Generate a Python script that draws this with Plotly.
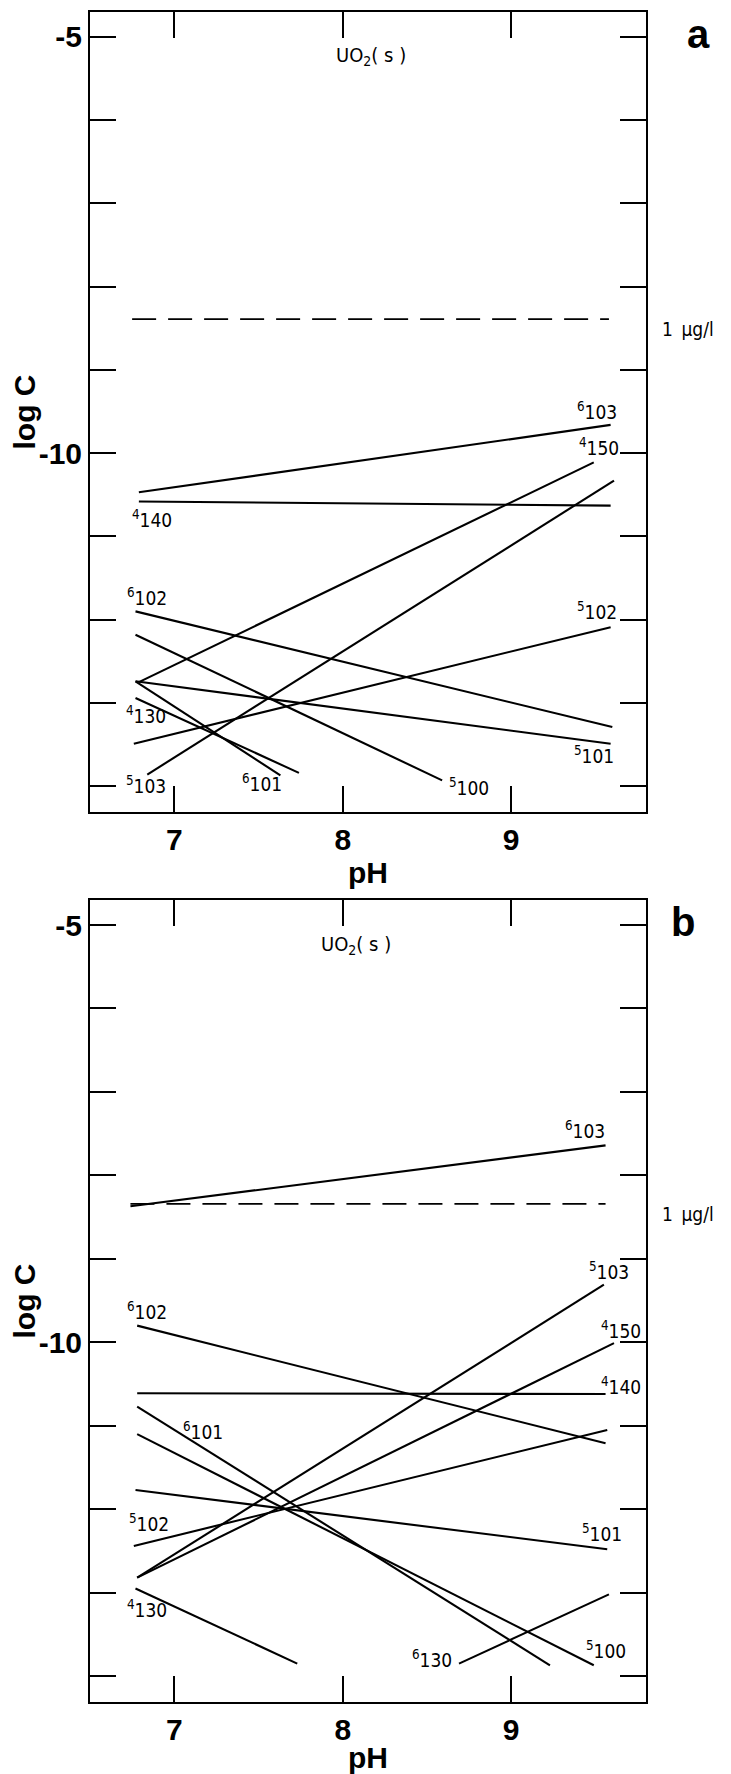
import plotly.graph_objects as go

# ---------------- data ----------------
# Panel a
a_species = ["6_103", "4_140", "4_150", "5_103", "6_102", "5_100", "5_101", "5_102", "6_101", "4_130"]
a_ph0 = [6.79, 6.79, 6.79, 6.84, 6.77, 6.77, 6.77, 6.76, 6.77, 6.77]
a_ph1 = [9.59, 9.59, 9.49, 9.61, 9.60, 8.59, 9.59, 9.59, 7.63, 7.74]
a_c0 = [-10.47, -10.58, -12.75, -13.86, -11.90, -12.18, -12.74, -13.49, -12.74, -12.94]
a_c1 = [-9.66, -10.63, -10.11, -10.33, -13.29, -13.93, -13.49, -12.09, -13.87, -13.84]
a_lab_ph = [9.51, 6.87, 9.52, 6.83, 6.84, 8.75, 9.49, 9.51, 7.52, 6.83]
a_lab_c = [-9.49, -10.79, -9.92, -13.99, -11.73, -14.01, -13.63, -11.90, -13.96, -13.15]

# Panel b
b_species = ["6_103", "5_103", "4_150", "4_140", "6_102", "5_102", "6_101", "5_100", "5_101", "4_130", "6_130"]
b_ph0 = [6.74, 6.78, 6.78, 6.78, 6.78, 6.76, 6.78, 6.78, 6.77, 6.77, 8.69]
b_ph1 = [9.56, 9.55, 9.61, 9.56, 9.56, 9.57, 9.23, 9.49, 9.57, 7.73, 9.58]
b_c0 = [-8.37, -12.82, -12.82, -10.61, -9.80, -12.44, -10.77, -11.10, -11.77, -12.95, -13.85]
b_c1 = [-7.64, -9.31, -10.01, -10.62, -11.21, -11.05, -13.87, -13.87, -12.48, -13.85, -13.02]
b_lab_ph = [9.44, 9.58, 9.65, 9.65, 6.84, 6.85, 7.17, 9.56, 9.54, 6.84, 8.53]
b_lab_c = [-7.46, -9.14, -9.85, -10.52, -9.63, -12.17, -11.06, -13.69, -12.29, -13.19, -13.80]

# 1 ug/l limit line
limit_logc = [-8.39, -8.34]
limit_ph = [[6.75, 9.58], [6.74, 9.56]]

# UO2(s) caption position per panel
solid_ph = [8.17, 8.08]
solid_logc = [-5.23, -5.24]

x_ticks = [7, 8, 9]
y_major = [-10, -5]
y_major_text = ["-10", "-5"]
y_minor = [-14, -13, -12, -11, -9, -8, -7, -6]

panel_letters = ["a", "b"]
solid_text = "UO<sub>2</sub>( s )"
limit_text = "1\u2002\u00b5g/l"

# ---------------- figure ----------------
OFF = 8                      # page body margin of the html page
W, H = 731 - OFF, 1774 - OFF
ML, MR, MT, MB = 82, 85, 4, 72
plot_h = H - MT - MB

def dom(top_px, bot_px):
    return [(H - MB - bot_px) / plot_h, (H - MB - top_px) / plot_h]

LABEL_FONT = dict(family="DejaVu Sans Condensed, Liberation Sans Narrow, DejaVu Sans, sans-serif",
                  size=19, color="black")
SOLID_FONT = dict(LABEL_FONT, size=20)
BOLD_FONT = dict(family="Liberation Sans Narrow, Liberation Sans, Arial, sans-serif",
                 size=30, color="black", weight="bold")

fig = go.Figure()
annotations = []

panels = [
    ("x", "y", a_species, a_ph0, a_ph1, a_c0, a_c1, a_lab_ph, a_lab_c),
    ("x2", "y2", b_species, b_ph0, b_ph1, b_c0, b_c1, b_lab_ph, b_lab_c),
]

for i, (xr, yr, sp, p0, p1, c0, c1, lp, lc) in enumerate(panels):
    for k in range(len(sp)):
        fig.add_trace(go.Scatter(x=[p0[k], p1[k]], y=[c0[k], c1[k]], mode="lines",
                                 line=dict(color="black", width=2.1),
                                 xaxis=xr, yaxis=yr, showlegend=False, hoverinfo="skip"))
        lead, sub = sp[k].split("_")
        annotations.append(dict(x=lp[k], y=lc[k], xref=xr, yref=yr,
                                text=f"<sup>{lead}</sup>{sub}", showarrow=False,
                                xanchor="center", yanchor="middle", font=LABEL_FONT))
    # dashed 1 ug/l line
    fig.add_trace(go.Scatter(x=limit_ph[i], y=[limit_logc[i], limit_logc[i]], mode="lines",
                             line=dict(color="black", width=1.8, dash="24px,12px"),
                             xaxis=xr, yaxis=yr, showlegend=False, hoverinfo="skip"))
    annotations.append(dict(x=1.025, y=limit_logc[i] - 0.12, xref="paper", yref=yr,
                            text=limit_text, showarrow=False, xanchor="left", yanchor="middle",
                            font=LABEL_FONT))
    annotations.append(dict(x=solid_ph[i], y=solid_logc[i], xref=xr, yref=yr, text=solid_text,
                            showarrow=False, xanchor="center", yanchor="middle", font=SOLID_FONT))
    annotations.append(dict(x=1.094 if i == 0 else 1.067, y=0.972, xref="paper",
                            yref=f"{yr} domain", text=panel_letters[i], showarrow=False,
                            xanchor="center", yanchor="middle",
                            font=dict(family="Liberation Sans, Arial, sans-serif", size=40,
                                      color="black", weight="bold")))

axis_common = dict(showgrid=False, zeroline=False, showline=True, linecolor="black",
                   linewidth=2, mirror="ticks", ticks="inside", ticklen=26, tickwidth=2,
                   tickcolor="black", tickfont=BOLD_FONT)

xax = dict(axis_common, range=[6.5, 9.8], tickvals=x_ticks, ticktext=[str(v) for v in x_ticks],
           title=dict(text="pH", font=BOLD_FONT, standoff=0))
yax = dict(axis_common, range=[-14.31, -4.70], tickvals=y_major, ticktext=y_major_text,
           minor=dict(tickvals=y_minor, ticks="inside", ticklen=26, tickwidth=2,
                      tickcolor="black", showgrid=False),
           title=dict(text="log C", font=BOLD_FONT, standoff=0))

fig.update_layout(
    width=W, height=H,
    margin=dict(l=ML, r=MR, t=MT, b=MB, autoexpand=False),
    paper_bgcolor="white", plot_bgcolor="white",
    xaxis=dict(xax, anchor="y", domain=[0, 1]),
    yaxis=dict(yax, anchor="x", domain=dom(12 - OFF, 812 - OFF)),
    xaxis2=dict(xax, anchor="y2", domain=[0, 1]),
    yaxis2=dict(yax, anchor="x2", domain=dom(900 - OFF, 1702 - OFF)),
    annotations=annotations,
)

fig.write_html("out.html")
